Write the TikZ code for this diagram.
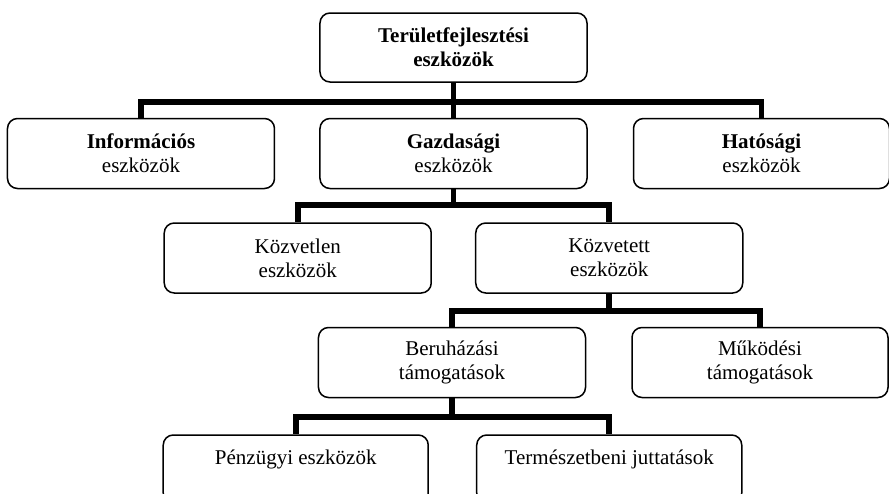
\documentclass[tikz,border=0pt]{standalone}
\usepackage{fontspec}
\setmainfont{Liberation Serif}
\usetikzlibrary{positioning}

\begin{document}
\begin{tikzpicture}[
  box/.style={draw, rounded corners=5pt, line width=0.75pt, align=center, minimum width=133.5pt, minimum height=35pt, inner sep=2pt, font=\fontsize{10.5}{12}\selectfont},
  conn/.style={line width=2.8pt}
]

  \useasboundingbox (-226.75pt,23.75pt) rectangle (217.75pt,-222.75pt);

  % Define nodes
  \node[box, minimum height=34.5pt] (fejl) {\textbf{Területfejlesztési}\\\textbf{eszközök}};
  \node[box, below=17.5pt of fejl] (gazd) {\textbf{Gazdasági}\\eszközök};
  \node[box, left=22pt of gazd] (info) {\textbf{Információs}\\eszközök};
  \node[box, right=22.5pt of gazd, minimum width=128pt] (hat) {\textbf{Hatósági}\\eszközök};
  \node[box, below left=16.5pt and 10.75pt of gazd.south] (kozvetlen) {Közvetlen\\eszközök};
  \node[box, below right=16.5pt and 10.75pt of gazd.south] (kozvetett) {Közvetett\\eszközök};
  \node[box, below left=16.5pt and 11.5pt of kozvetett.south] (beruh) {Beruházási\\támogatások};
  \node[box, below right=16.5pt and 11pt of kozvetett.south, minimum width=128pt] (mukodesi) {Működési\\támogatások};
  \node[box, below left=18pt and 11.5pt of beruh.south, minimum width=132.5pt, minimum height=34pt] (penz) {Pénzügyi eszközök\\~};
  \node[box, below right=18pt and 12pt of beruh.south, minimum width=132.5pt, minimum height=34pt] (term) {Természetbeni juttatások\\~};

  % Connect the nodes
  \draw[conn] (fejl.south) -- ++(0,-9.5pt) -| (info.north);
  \draw[conn] (fejl.south) -- (gazd.north);
  \draw[conn] (fejl.south) -- ++(0,-9.5pt) -| (hat.north);
  \draw[conn] (gazd.south) -- ++(0,-8pt) -| (kozvetlen.north);
  \draw[conn] (gazd.south) -- ++(0,-8pt) -| (kozvetett.north);
  \draw[conn] (kozvetett.south) -- ++(0,-8.5pt) -| (beruh.north);
  \draw[conn] (kozvetett.south) -- ++(0,-8.5pt) -| (mukodesi.north);
  \draw[conn] (beruh.south) -- ++(0,-9.5pt) -| (penz.north);
  \draw[conn] (beruh.south) -- ++(0,-9.5pt) -| (term.north);

\end{tikzpicture}
\end{document}
